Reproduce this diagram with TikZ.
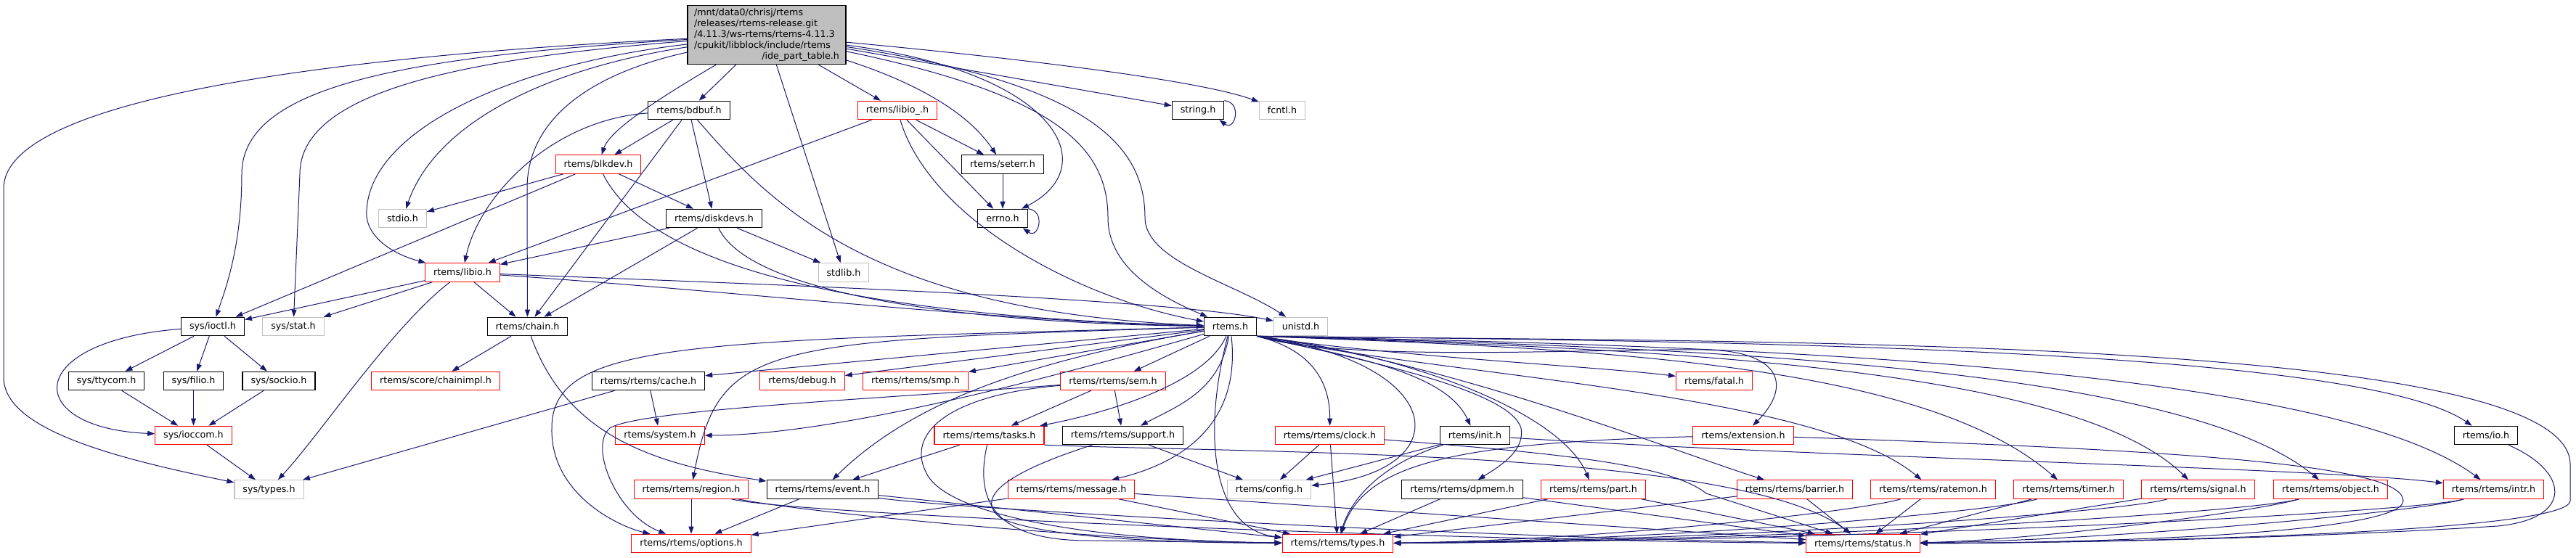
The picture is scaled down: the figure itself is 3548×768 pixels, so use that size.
\documentclass[tikz,border=0pt]{standalone}
\usepackage{fontspec}
\setmainfont{DejaVu Sans}
\usepackage{xcolor}
\usepackage{tikz}
\usetikzlibrary{arrows.meta}
\definecolor{midnightblue}{HTML}{191970}
\definecolor{grey75}{HTML}{BFBFBF}

\begin{document}
\begin{tikzpicture}[>={Triangle[length=10pt, width=7pt]}, x=1pt, y=-1pt,
    file/.style={draw=black, fill=white, line width=1.1pt, inner xsep=11.5pt, inner ysep=0pt, minimum height=25.5pt, font=\fontsize{12.7}{15}\selectfont},
    trunc/.style={file, draw=red},
    ext/.style={file, draw=grey75},
    dep/.style={->, midnightblue, line width=1pt}]
    \path [fill=white, use as bounding box] (0, 0) rectangle (3548, 768);

    \node [file, fill=grey75, text width=200pt, inner xsep=9pt, inner ysep=4.5pt, align=left] (main) at (1056, 48) {/mnt/data0/chrisj/rtems\\/releases/rtems-release.git\\/4.11.3/ws-rtems/rtems-4.11.3\\/cpukit/libblock/include/rtems\\\hspace*{\fill}/ide\_part\_table.h\hspace*{\fill}};
    \node [file] (bdbuf) at (949, 152) {rtems/bdbuf.h};
    \node [trunc] (libiou) at (1236, 152) {rtems/libio\_.h};
    \node [file] (stringh) at (1650, 152) {string.h};
    \node [ext] (fcntl) at (1766, 152) {fcntl.h};
    \node [trunc] (blkdev) at (824, 226.5) {rtems/blkdev.h};
    \node [file] (seterr) at (1381, 226.5) {rtems/seterr.h};
    \node [ext] (stdio) at (554.5, 301) {stdio.h};
    \node [file] (diskdevs) at (983.5, 301) {rtems/diskdevs.h};
    \node [file] (errno) at (1381, 301) {errno.h};
    \node [trunc] (libio) at (637, 375.5) {rtems/libio.h};
    \node [ext] (stdlib) at (1162, 375.5) {stdlib.h};
    \node [file] (ioctl) at (293, 450) {sys/ioctl.h};
    \node [ext] (stat) at (404, 450) {sys/stat.h};
    \node [file] (chain) at (726.5, 450) {rtems/chain.h};
    \node [file] (rtemsh) at (1694.5, 450) {rtems.h};
    \node [ext] (unistd) at (1791.5, 450) {unistd.h};
    \node [file] (ttycom) at (146.5, 525) {sys/ttycom.h};
    \node [file] (filio) at (266.5, 525) {sys/filio.h};
    \node [file] (sockio) at (384, 525) {sys/sockio.h};
    \node [trunc] (chainimpl) at (600, 525) {rtems/score/chainimpl.h};
    \node [file] (cache) at (893, 525) {rtems/rtems/cache.h};
    \node [trunc] (debug) at (1105, 525) {rtems/debug.h};
    \node [trunc] (smp) at (1261, 525) {rtems/rtems/smp.h};
    \node [trunc] (sem) at (1533, 525) {rtems/rtems/sem.h};
    \node [trunc] (fatal) at (2361, 525) {rtems/fatal.h};
    \node [trunc] (ioccom) at (266.5, 600) {sys/ioccom.h};
    \node [trunc] (system) at (909, 600) {rtems/system.h};
    \node [trunc] (tasks) at (1362.5, 600) {rtems/rtems/tasks.h};
    \node [file] (support) at (1546.5, 600) {rtems/rtems/support.h};
    \node [trunc] (clock) at (1831.5, 600) {rtems/rtems/clock.h};
    \node [file] (init) at (2031.5, 600) {rtems/init.h};
    \node [trunc] (extension) at (2401, 600) {rtems/extension.h};
    \node [file] (io) at (3424, 600) {rtems/io.h};
    \node [ext] (systypes) at (370.5, 674.5) {sys/types.h};
    \node [trunc] (region) at (952, 674.5) {rtems/rtems/region.h};
    \node [file] (event) at (1133, 674.5) {rtems/rtems/event.h};
    \node [trunc] (message) at (1475.5, 674.5) {rtems/rtems/message.h};
    \node [ext] (config) at (1748, 674.5) {rtems/config.h};
    \node [file] (dpmem) at (2014, 674.5) {rtems/rtems/dpmem.h};
    \node [trunc] (part) at (2194.5, 674.5) {rtems/rtems/part.h};
    \node [trunc] (barrier) at (2472, 674.5) {rtems/rtems/barrier.h};
    \node [trunc] (ratemon) at (2662.5, 674.5) {rtems/rtems/ratemon.h};
    \node [trunc] (timer) at (2849, 674.5) {rtems/rtems/timer.h};
    \node [trunc] (signal) at (3027.5, 674.5) {rtems/rtems/signal.h};
    \node [trunc] (object) at (3210, 674.5) {rtems/rtems/object.h};
    \node [trunc] (intr) at (3434.5, 674.5) {rtems/rtems/intr.h};
    \node [trunc] (options) at (952, 749) {rtems/rtems/options.h};
    \node [trunc] (types) at (1842.5, 749) {rtems/rtems/types.h};
    \node [trunc] (status) at (2566, 749) {rtems/rtems/status.h};

    \draw [dep] (main) .. controls (500, 75) and (5, 130) .. (5, 260) -- (5, 520) .. controls (5, 590) and (150, 630) .. (systypes);
    \draw [dep] (main) .. controls (550, 78) and (333, 120) .. (333, 240) .. controls (333, 340) and (310, 400) .. (ioctl);
    \draw [dep] (main) .. controls (620, 82) and (413, 130) .. (413, 240) -- (stat);
    \draw [dep] (main) .. controls (700, 90) and (510, 180) .. (505, 290) .. controls (502, 325) and (540, 350) .. (libio);
    \draw [dep] (main) .. controls (750, 95) and (600, 170) .. (stdio);
    \draw [dep] (main) .. controls (820, 100) and (726, 160) .. (726, 260) -- (chain);
    \draw [dep] (main) .. controls (900, 140) and (840, 180) .. (blkdev);
    \draw [dep] (main) -- (bdbuf);
    \draw [dep] (main) -- (stdlib);
    \draw [dep] (main) -- (libiou);
    \draw [dep] (main) .. controls (1250, 110) and (1330, 150) .. (seterr);
    \draw [dep] (main) .. controls (1460, 100) and (1520, 230) .. (errno);
    \draw [dep] (main) .. controls (1450, 130) and (1526, 200) .. (1526, 300) .. controls (1526, 370) and (1600, 410) .. (rtemsh);
    \draw [dep] (main) .. controls (1500, 115) and (1577, 200) .. (1577, 300) .. controls (1577, 360) and (1700, 390) .. (unistd);
    \draw [dep] (main) -- (stringh);
    \draw [dep] (main) .. controls (1400, 80) and (1650, 110) .. (fcntl);
    \draw [dep] (stringh.north east) .. controls +(25, 2) and +(22, 16) .. ([xshift=-7pt]stringh.south east);
    \draw [dep] (errno.north east) .. controls +(25, 2) and +(22, 16) .. ([xshift=-7pt]errno.south east);

    \draw [dep] (bdbuf) -- (blkdev);
    \draw [dep] (bdbuf) .. controls (760, 165) and (660, 270) .. (libio);
    \draw [dep] (bdbuf) -- (chain);
    \draw [dep] (bdbuf) -- (diskdevs);
    \draw [dep] (bdbuf) .. controls (1060, 280) and (1200, 430) .. (rtemsh);
    \draw [dep] (blkdev) -- (stdio);
    \draw [dep] (blkdev) -- (ioctl);
    \draw [dep] (blkdev) -- (diskdevs);
    \draw [dep] (blkdev) .. controls (890, 360) and (1150, 435) .. (rtemsh);
    \draw [dep] (libiou) -- (libio);
    \draw [dep] (libiou) -- (seterr);
    \draw [dep] (libiou) -- (errno);
    \draw [dep] (libiou) .. controls (1280, 300) and (1480, 410) .. (rtemsh);
    \draw [dep] (seterr) -- (errno);
    \draw [dep] (diskdevs) -- (libio);
    \draw [dep] (diskdevs) -- (chain);
    \draw [dep] (diskdevs) -- (stdlib);
    \draw [dep] (diskdevs) .. controls (1030, 400) and (1300, 445) .. (rtemsh);
    \draw [dep] (libio) -- (ioctl);
    \draw [dep] (libio) -- (stat);
    \draw [dep] (libio) -- (chain);
    \draw [dep] (libio) .. controls (540, 450) and (440, 600) .. (systypes);
    \draw [dep] (libio) .. controls (1000, 400) and (1400, 445) .. (rtemsh);
    \draw [dep] (libio) .. controls (1000, 390) and (1600, 410) .. (unistd);

    \draw [dep] (ioctl) -- (ttycom);
    \draw [dep] (ioctl) -- (filio);
    \draw [dep] (ioctl) -- (sockio);
    \draw [dep] (ioctl) .. controls (30, 470) and (30, 590) .. (ioccom);
    \draw [dep] (ttycom) -- (ioccom);
    \draw [dep] (filio) -- (ioccom);
    \draw [dep] (sockio) -- (ioccom);
    \draw [dep] (ioccom) -- (systypes);
    \draw [dep] (chain) -- (chainimpl);
    \draw [dep] (chain) .. controls (780, 600) and (900, 640) .. (event);
    \draw [dep] (cache) -- (systypes);
    \draw [dep] (cache) -- (system);

    \draw [dep] (rtemsh) -- (cache);
    \draw [dep] (rtemsh) -- (debug);
    \draw [dep] (rtemsh) -- (smp);
    \draw [dep] (rtemsh) -- (sem);
    \draw [dep] (rtemsh) .. controls (1450, 520) and (1150, 600) .. (system);
    \draw [dep] (rtemsh) .. controls (1660, 530) and (1520, 570) .. (tasks);
    \draw [dep] (rtemsh) .. controls (1680, 540) and (1620, 560) .. (support);
    \draw [dep] (rtemsh) .. controls (1050, 470) and (990, 470) .. (region);
    \draw [dep] (rtemsh) .. controls (1400, 500) and (1250, 560) .. (event);
    \draw [dep] (rtemsh) .. controls (1710, 590) and (1620, 640) .. (message);
    \draw [dep] (rtemsh) .. controls (950, 470) and (760, 470) .. (760, 590) .. controls (758, 680) and (850, 725) .. (options);
    \draw [dep] (rtemsh) .. controls (1655, 600) and (1670, 730) .. (types);
    \draw [dep] (rtemsh.south east) .. controls (2000, 500) and (2010, 650) .. (config);
    \draw [dep] (rtemsh.south east) .. controls (1800, 480) and (1832, 520) .. (clock);
    \draw [dep] (rtemsh.south east) .. controls (1850, 490) and (1990, 510) .. (init);
    \draw [dep] (rtemsh.south east) .. controls (1900, 500) and (2080, 540) .. (2095, 590) .. controls (2100, 620) and (2070, 640) .. (dpmem);
    \draw [dep] (rtemsh.south east) .. controls (1950, 490) and (2150, 570) .. (part);
    \draw [dep] (rtemsh.south east) .. controls (1900, 490) and (2200, 505) .. (fatal);
    \draw [dep] (rtemsh.south east) .. controls (1850, 500) and (2200, 480) .. (2350, 482) .. controls (2450, 484) and (2470, 530) .. (extension);
    \draw [dep] (rtemsh.south east) .. controls (2000, 500) and (2300, 620) .. (barrier);
    \draw [dep] (rtemsh.south east) .. controls (2000, 520) and (2500, 540) .. (ratemon);
    \draw [dep] (rtemsh.south east) .. controls (2200, 480) and (2650, 500) .. (timer);
    \draw [dep] (rtemsh.south east) .. controls (2250, 480) and (2850, 500) .. (signal);
    \draw [dep] (rtemsh.south east) .. controls (2300, 478) and (3000, 500) .. (object);
    \draw [dep] (rtemsh.south east) .. controls (2350, 475) and (3200, 500) .. (intr);
    \draw [dep] (rtemsh.south east) .. controls (2400, 470) and (3250, 480) .. (io);
    \draw [dep] (rtemsh.south east) .. controls (2400, 472) and (3540, 460) .. (3540, 640) -- (3540, 690) .. controls (3540, 735) and (2900, 748) .. (status);

    \draw [dep] (sem) -- (tasks);
    \draw [dep] (sem) -- (support);
    \draw [dep] (sem) .. controls (1200, 550) and (880, 565) .. (840, 590) .. controls (810, 615) and (850, 710) .. (options);
    \draw [dep] (sem) .. controls (1300, 545) and (1250, 600) .. (1275, 650) .. controls (1300, 710) and (1500, 745) .. (types);
    \draw [dep] (tasks) -- (event);
    \draw [dep] (tasks) .. controls (1340, 700) and (1380, 745) .. (1500, 745) -- (types);
    \draw [dep] (tasks.south east) .. controls (1750, 625) and (2400, 620) .. (status);
    \draw [dep] (support) -- (config);
    \draw [dep] (support) .. controls (1420, 640) and (1330, 680) .. (1380, 715) .. controls (1450, 745) and (1650, 748) .. (types);
    \draw [dep] (region) -- (options);
    \draw [dep] (region) .. controls (1100, 705) and (1500, 745) .. (types);
    \draw [dep] (region) .. controls (1100, 710) and (2000, 745) .. (status);
    \draw [dep] (event) -- (options);
    \draw [dep] (event) -- (types);
    \draw [dep] (event) .. controls (1300, 700) and (2000, 740) .. (status);
    \draw [dep] (message) -- (options);
    \draw [dep] (message) -- (types);
    \draw [dep] (message) -- (status);
    \draw [dep] (clock) -- (config);
    \draw [dep] (clock) -- (types);
    \draw [dep] (clock) .. controls (2150, 625) and (2300, 640) .. (2350, 680) -- (status);
    \draw [dep] (init) -- (config);
    \draw [dep] (init) .. controls (1900, 640) and (1860, 690) .. (types);
    \draw [dep] (init) .. controls (2500, 630) and (3200, 645) .. (intr);
    \draw [dep] (extension) .. controls (2000, 610) and (1880, 640) .. (types);
    \draw [dep] (extension) .. controls (3000, 620) and (3310, 640) .. (3310, 690) .. controls (3310, 735) and (2900, 748) .. (status);
    \draw [dep] (dpmem) -- (types);
    \draw [dep] (dpmem) -- (status);
    \draw [dep] (part) -- (types);
    \draw [dep] (part) -- (status);
    \draw [dep] (barrier) -- (types);
    \draw [dep] (barrier) -- (status);
    \draw [dep] (ratemon) .. controls (2560, 705) and (2200, 745) .. (types);
    \draw [dep] (ratemon) -- (status);
    \draw [dep] (timer) .. controls (2750, 705) and (2300, 745) .. (types);
    \draw [dep] (timer) -- (status);
    \draw [dep] (signal) .. controls (2930, 705) and (2400, 745) .. (types);
    \draw [dep] (signal) -- (status);
    \draw [dep] (object) .. controls (3110, 705) and (2500, 745) .. (types);
    \draw [dep] (object) .. controls (3110, 705) and (2800, 745) .. (status);
    \draw [dep] (intr) .. controls (3340, 705) and (2600, 745) .. (types);
    \draw [dep] (intr) .. controls (3340, 705) and (2900, 745) .. (status);
    \draw [dep] (io) .. controls (3540, 650) and (3545, 715) .. (3440, 725) .. controls (3200, 740) and (2900, 748) .. (status);
\end{tikzpicture}
\end{document}
